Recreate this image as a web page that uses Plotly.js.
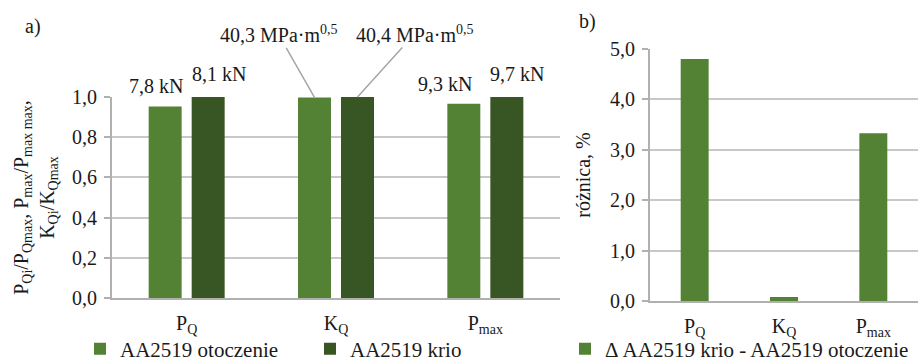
<!DOCTYPE html>
<html><head><meta charset="utf-8">
<script src="https://cdn.plot.ly/plotly-3.0.1.min.js"></script>
<style>html,body{margin:0;padding:0;background:#fff}#chart{width:918px;height:361px}</style>
</head><body><div id="chart"></div>
<script>
const categories = ['P<sub>Q</sub>', 'K<sub>Q</sub>', 'P<sub>max</sub>'];
const otoczenie = [0.953, 0.998, 0.966];
const krio = [1.0, 1.0, 1.0];
const roznica = [4.8, 0.08, 3.33];
const labelsOtoczenie = ['7,8 kN', '40,3 MPa·m<sup>0,5</sup>', '9,3 kN'];
const labelsKrio = ['8,1 kN', '40,4 MPa·m<sup>0,5</sup>', '9,7 kN'];
const seriesNames = ['AA2519 otoczenie', 'AA2519 krio', 'Δ AA2519 krio - AA2519 otoczenie'];

const FONT = 'Liberation Serif';
const TXT = '#1a1a1a';
const LIGHT = '#548235', DARK = '#375623';
const GRID = '#c8c8c8', AXIS = '#b0b0b0';
const FS = 20;
const f = (s) => ({family: FONT, size: s || FS, color: TXT});

const traces = [
  {type: 'bar', x: categories, y: otoczenie, name: seriesNames[0], marker: {color: LIGHT},
   xaxis: 'x', yaxis: 'y', legend: 'legend', hoverinfo: 'none'},
  {type: 'bar', x: categories, y: krio, name: seriesNames[1], marker: {color: DARK},
   xaxis: 'x', yaxis: 'y', legend: 'legend', hoverinfo: 'none'},
  {type: 'bar', x: categories, y: roznica, name: seriesNames[2], marker: {color: LIGHT},
   width: 0.313, xaxis: 'x2', yaxis: 'y2', legend: 'legend2', hoverinfo: 'none'}
];

const half = 0.144;
const annotations = [];
const shiftsO = [-9, 0, -19], shiftsK = [11, 0, 10];
[0, 2].forEach(i => {
  annotations.push({xref: 'x', yref: 'y', x: i - half, y: otoczenie[i], text: labelsOtoczenie[i],
    showarrow: false, yanchor: 'bottom', yshift: 7, xshift: shiftsO[i], font: f()});
  annotations.push({xref: 'x', yref: 'y', x: i + half, y: krio[i], text: labelsKrio[i],
    showarrow: false, yanchor: 'bottom', yshift: 10, xshift: shiftsK[i], font: f()});
});
annotations.push({xref: 'x', yref: 'y', x: 1 - half, y: otoczenie[1], text: labelsOtoczenie[1],
  showarrow: true, arrowhead: 0, arrowwidth: 1.5, arrowcolor: '#a6a6a6', ax: -36, ay: -63, standoff: 0,
  font: f()});
annotations.push({xref: 'x', yref: 'y', x: 1 + half, y: krio[1], text: labelsKrio[1],
  showarrow: true, arrowhead: 0, arrowwidth: 1.5, arrowcolor: '#a6a6a6', ax: 57, ay: -63, standoff: 0,
  font: f()});
annotations.push({xref: 'paper', yref: 'paper', x: 33 / 918, y: 1 - 27 / 361, text: 'a)', showarrow: false,
  xanchor: 'center', yanchor: 'middle', font: f()});
annotations.push({xref: 'paper', yref: 'paper', x: 587 / 918, y: 1 - 22 / 361, text: 'b)', showarrow: false,
  xanchor: 'center', yanchor: 'middle', font: f()});

const yCommon = () => ({showline: true, linecolor: AXIS, linewidth: 2, ticks: 'outside', ticklen: 6, tickcolor: AXIS,
  tickwidth: 1.5, showgrid: true, gridcolor: GRID, gridwidth: 1.5, zeroline: false, tickformat: '.1f',
  tickfont: f(), automargin: false, fixedrange: true, ticklabelstandoff: 3});
const xCommon = () => ({type: 'category', showline: true, linecolor: AXIS, linewidth: 2, ticks: '', showgrid: false,
  zeroline: false, tickfont: f(), automargin: false, fixedrange: true, ticklabelstandoff: 6});

const layout = {
  width: 918, height: 361,
  margin: {l: 0, r: 0, t: 0, b: 0, autoexpand: false},
  paper_bgcolor: '#fff', plot_bgcolor: '#fff',
  separators: ', ',
  font: f(),
  barmode: 'group', bargap: 0.424, bargroupgap: 0.233,
  xaxis: Object.assign(xCommon(), {domain: [112 / 918, 560 / 918], anchor: 'y', range: [-0.5, 2.5]}),
  yaxis: Object.assign(yCommon(), {domain: [1 - 298 / 361, 1 - 97 / 361], anchor: 'x', range: [0, 1], dtick: 0.2,
    title: {text: 'P<sub>Qi</sub>/P<sub>Qmax</sub>, P<sub>max</sub>/P<sub>max max</sub>,<br>K<sub>Qi</sub>/K<sub>Qmax</sub>',
      font: f(), standoff: 12}}),
  xaxis2: Object.assign(xCommon(), {domain: [650 / 918, 1], anchor: 'y2', range: [-0.5, 2.5]}),
  yaxis2: Object.assign(yCommon(), {domain: [1 - 301 / 361, 1 - 49 / 361], anchor: 'x2', range: [0, 5], dtick: 1,
    title: {text: 'różnica, %', font: f(), standoff: 14}}),
  legend: {orientation: 'h', x: 80 / 918, xanchor: 'left', y: 1 - 349 / 361, yanchor: 'middle',
    font: f(21), entrywidth: 185, entrywidthmode: 'pixels', bgcolor: 'rgba(0,0,0,0)'},
  legend2: {orientation: 'h', x: 565 / 918, xanchor: 'left', y: 1 - 349 / 361, yanchor: 'middle',
    font: f(21), bgcolor: 'rgba(0,0,0,0)'},
  showlegend: true,
  annotations: annotations
};

Plotly.newPlot('chart', traces, layout, {displayModeBar: false});
</script>
</body></html>
